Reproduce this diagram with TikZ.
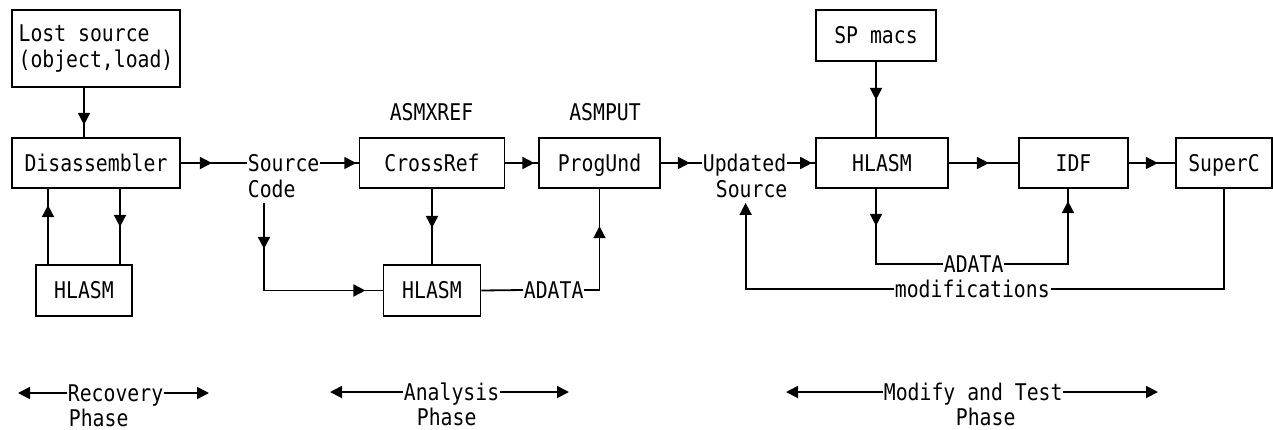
\documentclass[tikz,border=0pt]{standalone}
\usepackage{fontspec}
\newfontfamily\diagfont[FakeStretch=0.86]{DejaVu Sans Mono}
\usetikzlibrary{positioning,arrows.meta,decorations.markings}
\tikzset{%
  arrowat/.style={
    postaction={decorate,
      decoration={markings, mark=at position #1 with {\arrow{>}}}}
  },
  lbl/.style={
    inner sep=0pt,
    text height=16pt,
    text depth=0pt
  },
}

\begin{document}
\begin{tikzpicture}[x=1pt,y=-1pt,line width=1.8pt,>={Triangle[length=12pt,width=12pt]},font=\diagfont\fontsize{23pt}{26pt}\selectfont]
        \tikzstyle{box}=[draw,inner sep=0pt,minimum height=50pt]
        \tikzstyle{unit}=[box,text height=16pt,text depth=0pt]
        \useasboundingbox (0,0) rectangle (1273,429);

        % recovery
        \node[box,minimum width=168pt,minimum height=77pt,align=left] (lost) at (96,48.5) {Lost source\\(object,load)};
        \node[unit,minimum width=168pt] (disasm) at (96,163) {Disassembler};
        \node[unit,minimum width=96pt,minimum height=51pt] (hlasmA) at (84,290.5) {HLASM};
        \node[lbl,anchor=west] (src) at (247,163) {Source};
        \node[lbl,anchor=west] (code) at (247,189) {Code};

        \draw[arrowat=37pt] ([xshift=-12pt]lost.south) -- ([xshift=-12pt]disasm.north);
        \draw[arrowat=59pt] ([xshift=-36pt]hlasmA.north) -- ([xshift=-36pt]hlasmA.north |- disasm.south);
        \draw[arrowat=38pt] ([xshift=36pt]hlasmA.north |- disasm.south) -- ([xshift=36pt]hlasmA.north);
        \draw[arrowat=31pt] (disasm.east) -- (src.west);

        % analysis
        \node[unit,minimum width=145pt] (crossref) at (432,163) {CrossRef};
        \node[unit,minimum width=121pt] (progund) at (599.5,163) {ProgUnd};
        \node[unit,minimum width=97pt,minimum height=51pt] (hlasmB) at (432,290.5) {HLASM};
        \node[lbl] (xref) at (431.5,112) {ASMXREF};
        \node[lbl] (put) at (605,112) {ASMPUT};
        \node[lbl,anchor=west] (adataA) at (523,290) {ADATA};

        \draw[arrowat=36pt] (src.east) -- (crossref.west);
        \draw[arrowat=29pt] (crossref.east) -- (progund.west);
        \draw[arrowat=39pt] (crossref) -- (hlasmB);
        \draw[arrowat=46pt,arrowat=189pt] ([xshift=17pt,yshift=-5pt]code.south west) |- (hlasmB.west);
        \draw (hlasmB.east) -- (adataA.west);
        \draw[arrowat=79pt] (adataA.east) -| (progund.south);

        % modify and test
        \node[lbl,anchor=west] (updA) at (702,163) {Updated};
        \node[lbl,anchor=west] (updB) at (715,189) {Source};
        \node[unit,minimum width=120pt,minimum height=51pt] (spmacs) at (876,35.5) {SP macs};
        \node[unit,minimum width=132pt] (hlasmC) at (882,163) {HLASM};
        \node[unit,minimum width=109pt] (idf) at (1073.5,163) {IDF};
        \node[unit,minimum width=96pt] (superc) at (1224,163) {SuperC};
        \node[lbl,anchor=west] (adataB) at (943,264) {ADATA};
        \node[lbl,anchor=west] (mods) at (894,289) {modifications};

        \draw[arrowat=29pt] (progund.east) -- (updA.west);
        \draw[arrowat=25pt] (updA.east) -- (hlasmC.west);
        \draw[arrowat=38pt] (spmacs.south) -- (spmacs.south |- hlasmC.north);
        \draw[arrowat=40pt] (hlasmC.east) -- (idf.west);
        \draw[arrowat=29pt] (idf.east) -- (superc.west);
        \draw[arrowat=37pt] (spmacs.south |- hlasmC.south) |- (adataB.west);
        \draw[arrowat=126.5pt] (adataB.east) -| ([xshift=-5.5pt]idf.south);
        \draw (superc.south) |- (mods.east);
        \draw[->] (mods.west) -| ([xshift=-6pt,yshift=-5pt]updB.south);

        % phases
        \node[lbl,anchor=west] (recov) at (67,393) {Recovery};
        \node[lbl,anchor=west] (recovP) at (68,418) {Phase};
        \node[lbl,anchor=west] (anal) at (403,392) {Analysis};
        \node[lbl,anchor=west] (analP) at (416,417) {Phase};
        \node[lbl,anchor=west] (modt) at (883,392) {Modify and Test};
        \node[lbl,anchor=west] (modtP) at (955,417) {Phase};
        \coordinate (recL) at (18,393);
        \coordinate (recR) at (209,393);
        \coordinate (analL) at (330,392);
        \coordinate (analR) at (569,392);
        \coordinate (modtL) at (786,392);
        \coordinate (modtR) at (1158,392);

        \draw[->] (recov.west) -- (recL);
        \draw[->] (recov.east) -- (recR);
        \draw[->] (anal.west) -- (analL);
        \draw[->] (anal.east) -- (analR);
        \draw[->] (modt.west) -- (modtL);
        \draw[->] (modt.east) -- (modtR);
    \end{tikzpicture}
\end{document}
